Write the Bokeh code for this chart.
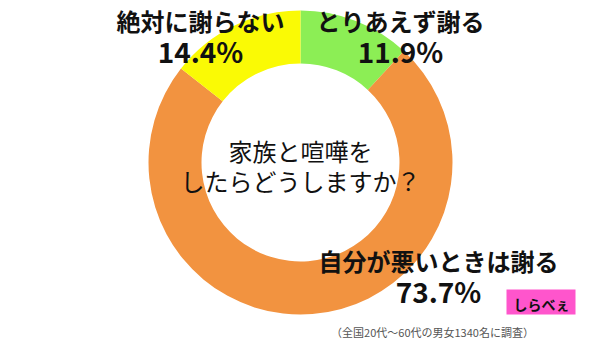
from math import pi
from bokeh.plotting import figure
from bokeh.models import Range1d, ColumnDataSource
from bokeh.core.properties import value
from bokeh.embed import file_html
from bokeh.resources import INLINE

# data
categories = ["とりあえず謝る", "自分が悪いときは謝る", "絶対に謝らない"]
percents = [11.9, 73.7, 14.4]
colors = ["#8CEE55", "#F29340", "#FAFA05"]
question = ["家族と喧嘩を", "したらどうしますか？"]
footnote = "（全国20代〜60代の男女1340名に調査）"

W, H = 600, 338
p = figure(width=W, height=H, x_range=Range1d(0, W), y_range=Range1d(0, H),
           output_backend="svg", toolbar_location=None, min_border=0)
p.axis.visible = False
p.grid.visible = False
p.outline_line_color = None
p.background_fill_color = "white"

cx, cy = 300, H - 162
r_in, r_out = 99, 152

starts, ends = [], []
cum = 0.0
for v in percents:
    a0 = pi / 2 - cum / 100 * 2 * pi
    cum += v
    a1 = pi / 2 - cum / 100 * 2 * pi
    starts.append(a1)
    ends.append(a0)

src = ColumnDataSource(dict(x=[cx] * 3, y=[cy] * 3, s=starts, e=ends, c=colors))
p.annular_wedge(x="x", y="y", inner_radius=r_in, outer_radius=r_out,
                start_angle="s", end_angle="e", fill_color="c", line_color=None,
                source=src)

font = value("Noto Sans CJK JP")

# category labels (layout positions)
label_pos = [(400, 20, 50), (438, 260, 290), (200, 20, 50)]
for name, pct, (lx, ly1, ly2) in zip(categories, percents, label_pos):
    p.text(x=[lx], y=[H - ly1], text=[name], text_font=font, text_font_size="24px",
           text_font_style="bold", text_align="center", text_baseline="middle",
           text_color="#111111")
    p.text(x=[lx], y=[H - ly2], text=[f"{pct}%"], text_font=font, text_font_size="28px",
           text_font_style="bold", text_align="center", text_baseline="middle",
           text_color="#111111")

# center question
for i, line in enumerate(question):
    p.text(x=[cx], y=[H - (150 + 30 * i)], text=[line], text_font=font,
           text_font_size="24px", text_align="center", text_baseline="middle",
           text_color="#111111")

# footnote
p.text(x=[432], y=[H - 331], text=[footnote], text_font=font, text_font_size="11px",
       text_align="center", text_baseline="middle", text_color="#555555")

# logo
p.quad(left=[506], right=[575], bottom=[H - 314], top=[H - 289],
       fill_color="#FF55CC", line_color=None)
p.text(x=[541], y=[H - 303], text=["しらべぇ"], text_font=font, text_font_size="14px",
       text_font_style="bold", text_align="center", text_baseline="middle",
       text_color="#111111")

open("out.html", "w").write(file_html(p, INLINE))
